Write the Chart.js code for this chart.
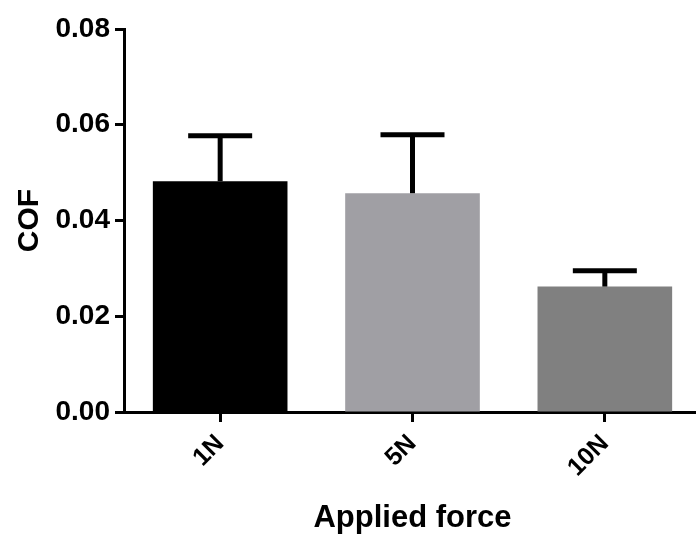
<!DOCTYPE html>
<html>
<head>
<meta charset="utf-8">
<script src="https://cdn.jsdelivr.net/npm/chart.js@4/dist/chart.umd.min.js"></script>
<style>
  html, body { margin: 0; padding: 0; background: #fff; overflow: hidden; width: 696px; height: 538px; }
  #wrap { position: absolute; left: 0; top: 0; width: 720px; height: 538px; }
</style>
</head>
<body>
<div id="wrap"><canvas id="c" width="720" height="538"></canvas></div>
<script>
const categories = ['1N', '5N', '10N'];
const meanCOF = [0.0482, 0.0457, 0.0262];
const errorCOF = [0.0095, 0.0122, 0.0033];
const barColors = ['#000000', '#a09fa4', '#808080'];
const yTicks = [0, 0.02, 0.04, 0.06, 0.08];

const FONT = "'Liberation Sans', Arial, Helvetica, sans-serif";

const errorBars = {
  id: 'errorBars',
  afterDatasetsDraw(chart) {
    const ctx = chart.ctx;
    const xs = chart.scales.x, ys = chart.scales.y;
    ctx.save();
    ctx.strokeStyle = '#000';
    ctx.lineWidth = 5;
    ctx.lineCap = 'butt';
    meanCOF.forEach((m, i) => {
      const x = xs.getPixelForValue(i);
      const yB = ys.getPixelForValue(m);
      const yT = ys.getPixelForValue(m + errorCOF[i]);
      ctx.beginPath();
      ctx.moveTo(x, yB);
      ctx.lineTo(x, yT);
      ctx.stroke();
      ctx.beginPath();
      ctx.moveTo(x - 32, yT);
      ctx.lineTo(x + 32, yT);
      ctx.stroke();
    });
    ctx.restore();
  }
};

new Chart(document.getElementById('c'), {
  type: 'bar',
  data: {
    labels: categories,
    datasets: [{
      data: meanCOF,
      backgroundColor: barColors,
      borderWidth: 0,
      barPercentage: 0.7,
      categoryPercentage: 1.0
    }]
  },
  options: {
    responsive: false,
    animation: false,
    devicePixelRatio: 1,
    layout: { padding: { top: 29, right: 19, left: 0, bottom: 0 } },
    plugins: { legend: { display: false }, tooltip: { enabled: false } },
    scales: {
      x: {
        offset: true,
        grid: { display: true, offset: false, drawOnChartArea: false, drawTicks: true, tickLength: 10, tickWidth: 3, tickColor: '#000' },
        border: { display: true, color: '#000', width: 3 },
        ticks: { color: '#000', font: { family: FONT, size: 25, weight: 'bold' }, maxRotation: 45, minRotation: 45, padding: 7 },
        title: { display: true, text: 'Applied force', color: '#000', font: { family: FONT, size: 31, weight: 'bold' }, padding: { top: 0, bottom: 1 } },
        afterFit(s) { s.height = 126; }
      },
      y: {
        min: 0, max: 0.08,
        afterBuildTicks(s) { s.ticks = yTicks.map(v => ({ value: v })); },
        grid: { display: true, drawOnChartArea: false, drawTicks: true, tickLength: 9, tickWidth: 3, tickColor: '#000' },
        border: { display: true, color: '#000', width: 3 },
        ticks: { color: '#000', font: { family: FONT, size: 28, weight: 'bold' }, padding: 5, callback: v => v.toFixed(2) },
        title: { display: true, text: 'COF', color: '#000', font: { family: FONT, size: 30, weight: 'bold' }, padding: { top: 12, bottom: 0 } },
        afterFit(s) { s.width = 124; }
      }
    }
  },
  plugins: [errorBars]
});
</script>
</body>
</html>
